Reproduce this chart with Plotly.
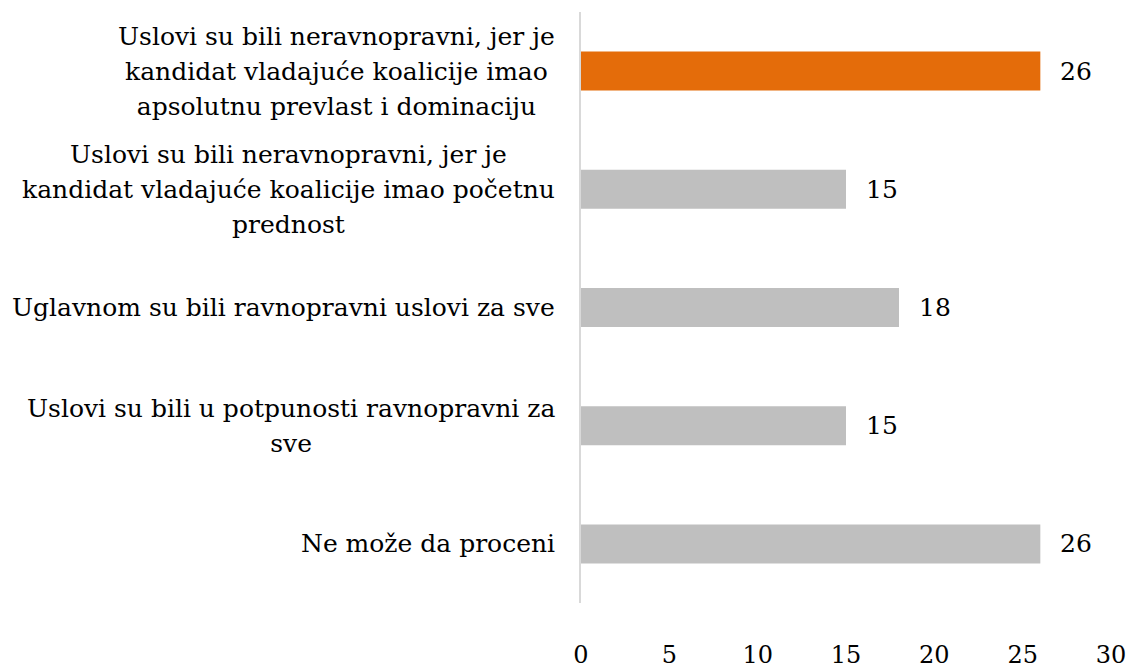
import plotly.graph_objects as go

categories = [
    "Uslovi su bili neravnopravni, jer je<br>kandidat vladajuće koalicije imao<br>apsolutnu prevlast i dominaciju",
    "Uslovi su bili neravnopravni, jer je<br>kandidat vladajuće koalicije imao početnu<br>prednost",
    "Uglavnom su bili ravnopravni uslovi za sve",
    "Uslovi su bili u potpunosti ravnopravni za<br>sve",
    "Ne može da proceni",
]
values = [26, 15, 18, 15, 26]
colors = ["#E46C0A", "#BFBFBF", "#BFBFBF", "#BFBFBF", "#BFBFBF"]
tick_vals = [0, 5, 10, 15, 20, 25, 30]

FONT = "DejaVu Serif"
FS = 25

fig = go.Figure()
fig.add_trace(go.Bar(
    y=categories, x=values, orientation="h",
    marker=dict(color=colors, line=dict(width=0)),
    width=0.33, hoverinfo="skip",
))

annotations = []
for cat, v in zip(categories, values):
    annotations.append(dict(
        x=0, xref="paper", y=cat, yref="y",
        text=f'<span style="font-size:{FS}px">{cat}</span>', showarrow=False,
        xanchor="right", yanchor="middle", align="center", xshift=-24,
        font=dict(family=FONT, size=27, color="#000000"),
    ))
    annotations.append(dict(
        x=v, xref="x", y=cat, yref="y", text=str(v), showarrow=False,
        xanchor="left", yanchor="middle", xshift=18,
        font=dict(family=FONT, size=FS, color="#000000"),
    ))

fig.update_layout(
    width=1131, height=669,
    margin=dict(l=581, r=20, t=12, b=66, autoexpand=False),
    paper_bgcolor="white", plot_bgcolor="white",
    showlegend=False,
    annotations=annotations,
    xaxis=dict(range=[0, 30], tickvals=tick_vals, showgrid=False, zeroline=False,
               showline=False, ticks="", ticklabelstandoff=35,
               tickfont=dict(family=FONT, size=FS - 1, color="#000000")),
    yaxis=dict(autorange="reversed", showticklabels=False, showgrid=False,
               zeroline=False, showline=True, linecolor="#D9D9D9", linewidth=2,
               ticks=""),
)
fig.write_html(
    "out.html",
    config={"displayModeBar": False},
    post_script="document.body.style.margin='0';document.body.style.overflow='hidden';",
)
